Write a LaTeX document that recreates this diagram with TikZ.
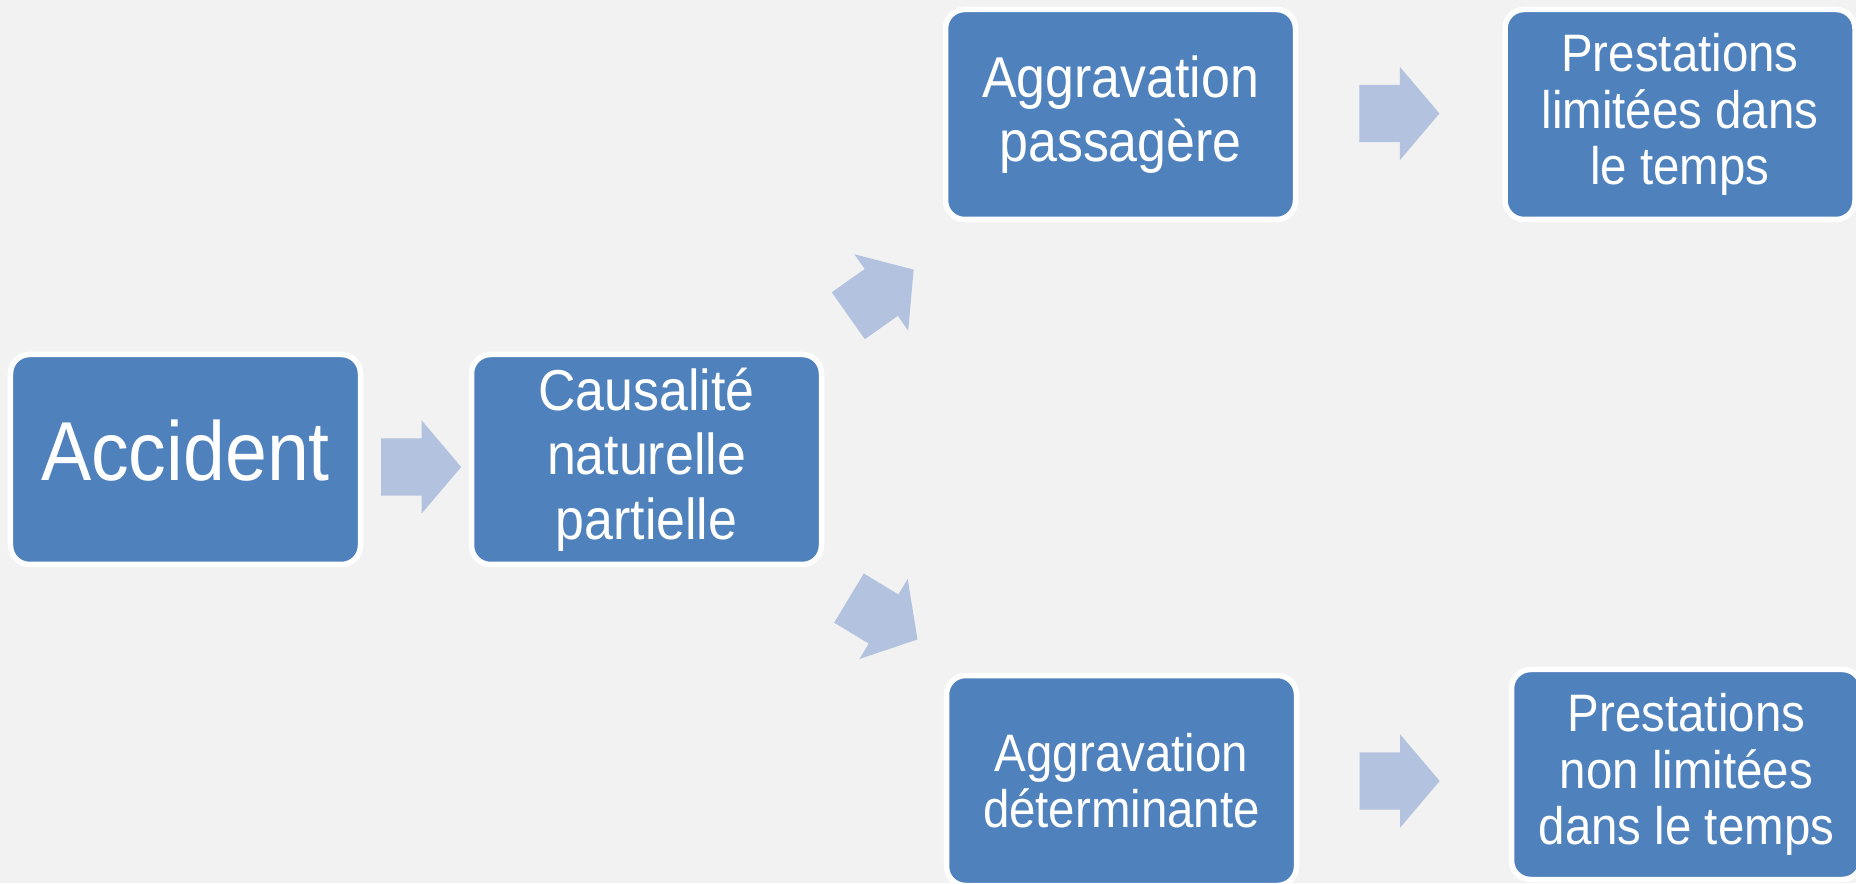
\documentclass[tikz,border=0pt]{standalone}
\usepackage{fontspec}
\setmainfont[FakeStretch=0.9]{Liberation Sans}
\usepackage{tikz}
\usetikzlibrary{shapes.arrows,calc}
\definecolor{boitebleu}{HTML}{4F81BD}
\definecolor{flechebleu}{HTML}{B3C2DE}
\definecolor{fond}{HTML}{F2F2F2}

\begin{document}
\begin{tikzpicture}[
  boite/.style={rectangle,rounded corners=0.19cm,fill=boitebleu,draw=white,line width=0.055cm,
    minimum width=3.5cm,minimum height=2.1cm,inner sep=0pt,align=center,text=white},
  fleche/.style={single arrow,fill=flechebleu,draw=none,inner xsep=0pt,inner ysep=0.28cm,
    minimum height=0.8cm,minimum width=0.92cm,single arrow head extend=0.18cm,
    single arrow tip angle=99.4},
  grand/.style={font=\fontsize{23.8}{28}\selectfont,text depth=0.18cm},
  moyen/.style={font=\fontsize{16.4}{18.4}\selectfont},
  petit/.style={font=\fontsize{15}{16.1}\selectfont}]
  \fill[fond] (0,0) rectangle (18.56,8.83);
  \useasboundingbox (0,0) rectangle (18.56,8.83);
  \node[boite,grand] (acc) at (1.855,4.235) {Accident};
  \node[boite,moyen] (caus) at (6.465,4.235) {Causalité\\naturelle\\partielle};
  \node[boite,moyen] (agg1) at (11.205,7.685) {Aggravation\\passagère};
  \node[boite,petit] (prest1) at (16.80,7.685) {Prestations\\limitées dans\\le temps};
  \node[boite,petit] (agg2) at (11.215,1.025) {Aggravation\\déterminante};
  \node[boite,petit] (prest2) at (16.865,1.085) {Prestations\\non limitées\\dans le temps};
  \node[fleche] (f1) at ($(acc.east)!0.5!(caus.west)+(-0.07,-0.075)$) {};
  \node[fleche,rotate=35.2] (f2) at ($(caus.east)!0.5!(agg1.west)+(-0.125,-0.127)$) {};
  \node[fleche,rotate=-31.1] (f3) at ($(caus.east)!0.5!(agg2.west)+(-0.112,0.075)$) {};
  \node[fleche] (f4) at ($(agg1.east)!0.5!(prest1.west)+(-0.13,0.01)$) {};
  \node[fleche] (f5) at ($(agg2.east)!0.5!(prest2.west)+(-0.165,-0.035)$) {};
\end{tikzpicture}
\end{document}
